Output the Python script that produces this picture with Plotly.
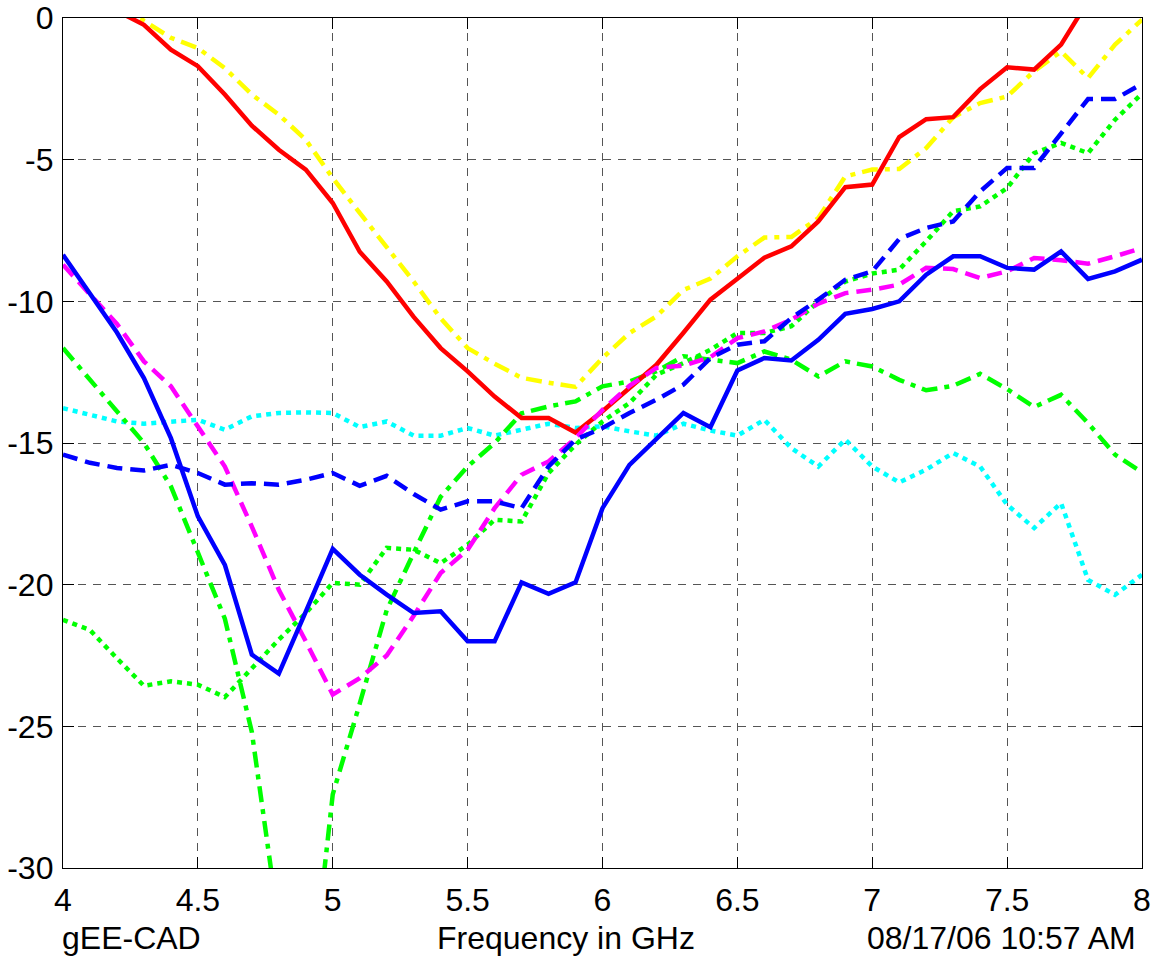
import plotly.graph_objects as go

freq = [4.0, 4.1, 4.2, 4.3, 4.4, 4.5, 4.6, 4.7, 4.8, 4.9,
        5.0, 5.1, 5.2, 5.3, 5.4, 5.5, 5.6, 5.7, 5.8, 5.9,
        6.0, 6.1, 6.2, 6.3, 6.4, 6.5, 6.6, 6.7, 6.8, 6.9,
        7.0, 7.1, 7.2, 7.3, 7.4, 7.5, 7.6, 7.7, 7.8, 7.9, 8.0]

red_solid = [2.0, 1.0, 0.25, -0.24, -1.12, -1.7, -2.7, -3.8, -4.65, -5.35,
             -6.53, -8.25, -9.3, -10.55, -11.65, -12.47, -13.36, -14.12, -14.12, -14.63,
             -13.88, -13.06, -12.24, -11.11, -9.94, -9.2, -8.46, -8.06, -7.18, -5.97,
             -5.88, -4.2, -3.57, -3.5, -2.51, -1.74, -1.82, -0.94, 0.6, 1.5, 2.5]

yellow_dashdot = [1.8, 1.2, 0.6, -0.1, -0.7, -1.06, -1.77, -2.7, -3.41, -4.3,
                  -5.65, -6.88, -8.06, -9.3, -10.6, -11.65, -12.2, -12.7, -12.87, -13.02,
                  -12.0, -11.12, -10.53, -9.6, -9.2, -8.41, -7.75, -7.73, -7.06, -5.59,
                  -5.35, -5.33, -4.59, -3.5, -3.0, -2.77, -1.88, -1.18, -2.12, -0.94, -0.06]

blue_solid = [-8.36, -9.75, -11.1, -12.71, -14.83, -17.59, -19.3, -22.47, -23.14, -20.95,
              -18.74, -19.65, -20.35, -21.0, -20.94, -22.0, -22.0, -19.92, -20.32, -19.92,
              -17.3, -15.77, -14.86, -13.94, -14.44, -12.44, -12.0, -12.09, -11.36, -10.44,
              -10.27, -10.0, -9.06, -8.41, -8.41, -8.82, -8.88, -8.24, -9.21, -8.94, -8.53]

blue_dashed = [-15.41, -15.7, -15.88, -15.97, -15.77, -16.06, -16.47, -16.42, -16.47, -16.3,
               -16.06, -16.51, -16.16, -16.8, -17.35, -17.06, -17.06, -17.3, -15.83, -14.88,
               -14.47, -13.94, -13.47, -12.94, -12.0, -11.53, -11.41, -10.59, -9.94, -9.24,
               -8.94, -7.8, -7.41, -7.18, -6.12, -5.29, -5.29, -4.06, -2.86, -2.86, -2.32]

magenta_dashed = [-8.71, -9.75, -10.8, -12.12, -13.0, -14.42, -15.83, -17.95, -20.18, -22.0,
                  -23.88, -23.3, -22.5, -21.1, -19.59, -18.77, -17.3, -16.12, -15.65, -14.83,
                  -13.83, -12.98, -12.35, -12.27, -11.97, -11.3, -11.06, -10.65, -10.08, -9.71,
                  -9.59, -9.41, -8.82, -8.86, -9.18, -8.94, -8.47, -8.55, -8.67, -8.41, -8.12]

green_dashdot = [-11.65, -12.77, -13.83, -15.0, -16.53, -18.88, -21.2, -25.2, -32.0, -36.0,
                 -27.4, -24.2, -20.9, -18.88, -16.9, -15.83, -15.0, -13.95, -13.71, -13.53,
                 -13.0, -12.83, -12.47, -11.94, -12.06, -12.18, -11.77, -12.06, -12.65, -12.12,
                 -12.3, -12.77, -13.14, -12.98, -12.56, -13.1, -13.73, -13.3, -14.3, -15.41, -16.04]

green_dotted = [-21.24, -21.6, -22.6, -23.57, -23.41, -23.53, -23.97, -22.94, -21.94, -21.0,
                -19.94, -20.0, -18.7, -18.77, -19.24, -18.59, -17.71, -17.77, -16.06, -15.06,
                -14.24, -13.59, -12.59, -12.18, -11.71, -11.12, -11.12, -10.88, -10.0, -9.3,
                -9.02, -8.88, -7.88, -6.82, -6.65, -6.0, -4.77, -4.41, -4.77, -3.59, -2.67]

cyan_dotted = [-13.77, -14.0, -14.24, -14.32, -14.24, -14.18, -14.53, -14.06, -13.94, -13.92,
               -13.94, -14.44, -14.24, -14.74, -14.74, -14.47, -14.74, -14.53, -14.32, -14.47,
               -14.41, -14.59, -14.74, -14.32, -14.56, -14.74, -14.18, -15.18, -15.83, -14.88,
               -15.83, -16.39, -15.94, -15.35, -15.83, -17.18, -18.0, -17.12, -19.83, -20.36, -19.65]

x_ticks = [4, 4.5, 5, 5.5, 6, 6.5, 7, 7.5, 8]
x_tick_labels = ["4", "4.5", "5", "5.5", "6", "6.5", "7", "7.5", "8"]
y_ticks = [-30, -25, -20, -15, -10, -5, 0]
y_tick_labels = ["-30", "-25", "-20", "-15", "-10", "-5", "0"]

left_text = "gEE-CAD"
x_title = "Frequency in GHz"
date_text = "08/17/06 10:57 AM"

DASH = "15px,8px"
DASHDOT = "16px,7px,5px,7px"
DOT = "5px,5px"

series = [
    (cyan_dotted, "#00FFFF", DOT),
    (green_dotted, "#00FF00", DOT),
    (green_dashdot, "#00FF00", DASHDOT),
    (yellow_dashdot, "#FFFF00", DASHDOT),
    (red_solid, "#FF0000", "solid"),
    (magenta_dashed, "#FF00FF", DASH),
    (blue_dashed, "#0000FF", DASH),
    (blue_solid, "#0000FF", "solid"),
]

fig = go.Figure()
for ys, col, dash in series:
    fig.add_trace(go.Scatter(x=freq, y=ys, mode="lines",
                             line=dict(color=col, width=4.5, dash=dash),
                             showlegend=False, hoverinfo="skip"))

font = dict(family="Liberation Sans, Arial, sans-serif", size=32, color="black")
grid_col = "#555555"

fig.update_layout(
    width=1160, height=961,
    margin=dict(l=63, r=18, t=18, b=93, autoexpand=False),
    paper_bgcolor="white", plot_bgcolor="white",
    font=font,
    showlegend=False,
)
fig.update_xaxes(range=[4, 8], tickvals=x_ticks, ticktext=x_tick_labels,
                 showgrid=True, gridcolor=grid_col, gridwidth=1, griddash="8px,7px",
                 showline=True, linecolor="black", linewidth=1.3, mirror="ticks",
                 ticks="inside", ticklen=11, tickcolor="black", tickwidth=1,
                 zeroline=False, tickfont=font, ticklabelstandoff=3, automargin=False)
fig.update_yaxes(range=[-30, 0], tickvals=y_ticks, ticktext=y_tick_labels,
                 showgrid=True, gridcolor=grid_col, gridwidth=1, griddash="8px,7px",
                 showline=True, linecolor="black", linewidth=1.3, mirror="ticks",
                 ticks="inside", ticklen=11, tickcolor="black", tickwidth=1,
                 zeroline=False, tickfont=font, ticklabelstandoff=2, automargin=False)

fig.add_annotation(text=left_text, xref="paper", yref="paper",
                   x=-0.003, y=-0.082, xanchor="left", yanchor="middle",
                   showarrow=False, font=font)
fig.add_annotation(text=x_title, xref="paper", yref="paper",
                   x=0.466, y=-0.082, xanchor="center", yanchor="middle",
                   showarrow=False, font=font)
fig.add_annotation(text=date_text, xref="paper", yref="paper",
                   x=0.996, y=-0.082, xanchor="right", yanchor="middle",
                   showarrow=False, font=font)

fig.write_html("out.html")
